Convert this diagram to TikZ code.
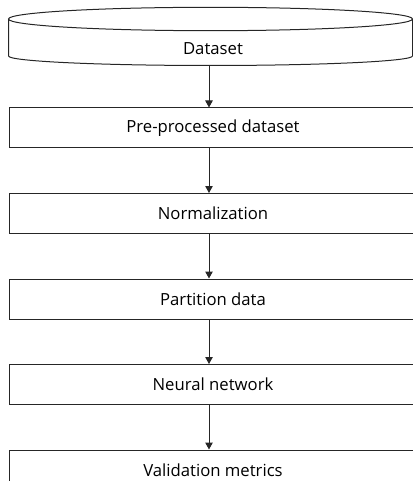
\documentclass[tikz,border=0pt]{standalone}
\usepackage{fontspec}
\setmainfont{Open Sans}
\usetikzlibrary{positioning,arrows.meta}

\tikzset{
  label font/.style={font=\fontsize{16.7}{20}\selectfont},
  stage/.style={draw=black!85,line width=1pt,minimum width=407pt,minimum height=40pt,inner sep=0pt,label font},
  flow/.style={draw=black!85,line width=1pt,-{Triangle[length=7pt,width=7.5pt]}},
}

\begin{document}
\begin{tikzpicture}[x=1pt,y=1pt]
      \useasboundingbox (0,0) rectangle (412,-481);
      % the dataset drum
      \draw[black!85,line width=1pt]
        (210.5,-19) ellipse [x radius=202,y radius=11.7]
        (8.5,-19) -- (8.5,-56) arc [start angle=180,end angle=360,x radius=202,y radius=9.5] -- (412.5,-19);
      \node[label font] (data) at (213,-49) {Dataset};
      \coordinate (databot) at (209,-65.5);
      % processing steps
      \node[stage] (prep) at (213,-128) {Pre-processed dataset};
      \node[stage,below=44.5pt of prep] (norm) {Normalization};
      \node[stage,below=44.5pt of norm] (part) {Partition data};
      \node[stage,below=44.5pt of part] (net) {Neural network};
      \node[stage,below=44.5pt of net] (valid) {Validation metrics};
      \begin{scope}[flow]
        \draw (databot) -- ([xshift=-4pt]prep.north);
        \foreach \a/\b in {prep/norm,norm/part,part/net,net/valid}
          \draw ([xshift=-4pt]\a.south) -- ([xshift=-4pt]\b.north);
      \end{scope}
    \end{tikzpicture}
\end{document}
